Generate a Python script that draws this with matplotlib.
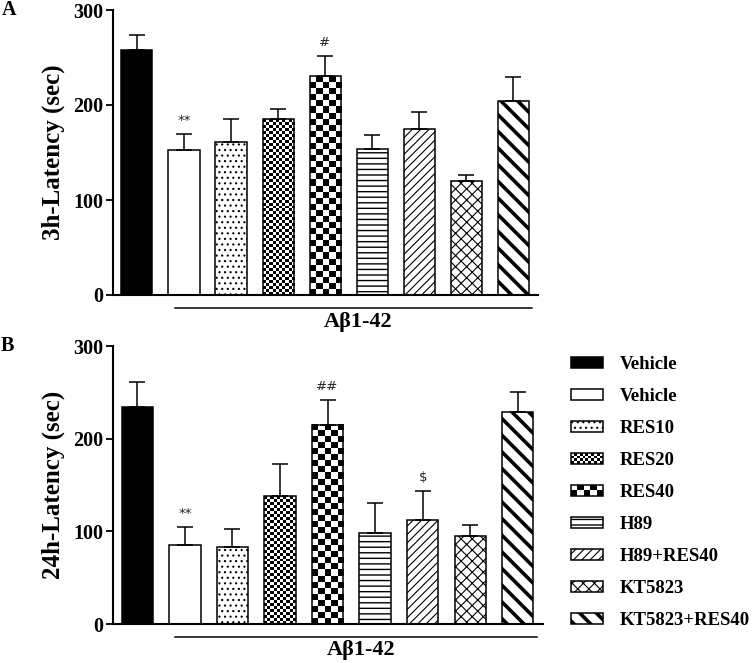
import numpy as np
import matplotlib
matplotlib.use('Agg')
import matplotlib.pyplot as plt
from matplotlib.patches import Rectangle, Patch
from matplotlib.legend_handler import HandlerPatch

# ---------------- data ----------------
groups = ['Vehicle', 'Vehicle', 'RES10', 'RES20', 'RES40', 'H89',
          'H89+RES40', 'KT5823', 'KT5823+RES40']
lat3_mean = [258, 153, 161, 185, 230, 154, 175, 120, 204]
lat3_sem = [16, 17, 24, 11, 22, 14, 18, 6, 25]
lat24_mean = [234, 85, 83, 138, 215, 98, 112, 95, 229]
lat24_sem = [27, 20, 19, 35, 27, 33, 32, 12, 21]
sig3 = ['', '**', '', '', '#', '', '', '', '']
sig24 = ['', '**', '', '', '##', '', '$', '', '']
yticks = [0, 100, 200, 300]
group_label = 'Aβ1-42'
panel_labels = ['A', 'B']
ylabels = ['3h-Latency (sec)', '24h-Latency (sec)']

# ---------------- styles ----------------
plt.rcParams['font.family'] = ['Liberation Serif', 'DejaVu Serif']
styles = [
    dict(face='black'),
    dict(face='white'),
    dict(hatch='...', hlw=0.8),
    dict(checker=3),
    dict(checker=6),
    dict(hatch='---', hlw=1.0),
    dict(hatch='////', hlw=0.8),
    dict(hatch='xxx', hlw=0.8),
    dict(hatch='\\\\', hlw=2.6),
]
EDGE_LW = 1.1

fig = plt.figure(figsize=(7.54, 6.63), dpi=100)
ax_top = fig.add_axes([113 / 754, 1 - 295 / 663, 425 / 754, 285 / 663])
ax_bot = fig.add_axes([113 / 754, 1 - 624 / 663, 430 / 754, 278 / 663])


def set_hlw(artist, lw):
    if hasattr(artist, 'set_hatch_linewidth'):
        artist.set_hatch_linewidth(lw)


def draw_checker(ax, bar, px):
    x0, w, h = bar.get_x(), bar.get_width(), bar.get_height()
    p0 = ax.transData.transform((x0, 0))
    p1 = ax.transData.transform((x0 + w, h))
    nx = max(1, int(round((p1[0] - p0[0]) / px)))
    ny = max(1, int(round((p1[1] - p0[1]) / px)))
    arr = np.add.outer(np.arange(ny), np.arange(nx)) % 2
    ax.imshow(arr, cmap='gray', extent=(x0, x0 + w, 0, h), origin='lower',
              aspect='auto', interpolation='nearest', zorder=1.9,
              clip_path=bar)
    bar.set_facecolor('none')


def draw_panel(ax, means, sems, sig, ylabel, plabel):
    n = len(means)
    x = np.arange(n)
    ax.set_xlim(-0.51, 8.53)
    ax.set_ylim(0, 300)
    bars = ax.bar(x, means, width=0.66, color='white', edgecolor='black',
                  linewidth=EDGE_LW, zorder=2)
    for bar, st in zip(bars, styles):
        if 'face' in st:
            bar.set_facecolor(st['face'])
        if 'hatch' in st:
            plt.rcParams['hatch.linewidth'] = st['hlw']
            bar.set_hatch(st['hatch'])
            set_hlw(bar, st['hlw'])
        if 'checker' in st:
            draw_checker(ax, bar, st['checker'])
    ax.set_xlim(-0.51, 8.53)
    ax.set_ylim(0, 300)
    ax.errorbar(x, means, yerr=[np.zeros(n), sems], fmt='none', ecolor='black',
                elinewidth=1.1, capsize=5.5, capthick=1.1, zorder=3)
    for xi, m, s, t in zip(x, means, sems, sig):
        if t:
            ax.annotate(t, (xi, m + s), xytext=(0, 5), textcoords='offset points',
                        ha='center', va='bottom', fontsize=9.5, color='#222222',
                        family=['DejaVu Sans'])
    for side in ['top', 'right']:
        ax.spines[side].set_visible(False)
    for side in ['left', 'bottom']:
        ax.spines[side].set_linewidth(1.5)
    ax.set_xticks([])
    ax.set_yticks(yticks)
    ax.tick_params(axis='y', length=5, width=1.3, labelsize=14.5, pad=2)
    for lab in ax.get_yticklabels():
        lab.set_fontweight('bold')
    ax.set_ylabel(ylabel, fontsize=18, fontweight='bold', labelpad=6)
    # group line + label
    trans = ax.get_xaxis_transform()
    ax.plot([0.8, 8.4], [-0.046, -0.046], color='black', lw=1.1,
            transform=trans, clip_on=False)
    ax.text(4.7, -0.095, group_label, transform=trans, ha='center', va='center',
            fontsize=16, fontweight='bold')
    ax.text(-0.262, 1.0, plabel, transform=ax.transAxes, ha='left', va='center',
            fontsize=14.5, fontweight='bold')


draw_panel(ax_top, lat3_mean, lat3_sem, sig3, ylabels[0], panel_labels[0])
draw_panel(ax_bot, lat24_mean, lat24_sem, sig24, ylabels[1], panel_labels[1])


# ---------------- legend ----------------
class HatchHandler(HandlerPatch):
    def __init__(self, hlw, **kw):
        super().__init__(**kw)
        self.hlw = hlw

    def create_artists(self, *args, **kwargs):
        arts = super().create_artists(*args, **kwargs)
        for a in arts:
            set_hlw(a, self.hlw)
        return arts


class CheckerHandler(HandlerPatch):
    def __init__(self, sq, **kw):
        super().__init__(**kw)
        self.sq = sq

    def create_artists(self, legend, orig_handle, xdescent, ydescent, width,
                       height, fontsize, trans):
        x0, y0 = -xdescent, -ydescent
        s = self.sq * 72.0 / legend.figure.dpi
        nx = max(1, int(round(width / s)))
        ny = max(1, int(round(height / s)))
        sw, sh = width / nx, height / ny
        arts = [Rectangle((x0, y0), width, height, fc='white', ec='none')]
        for i in range(ny):
            for j in range(nx):
                if (i + j) % 2 == 0:
                    arts.append(Rectangle((x0 + j * sw, y0 + i * sh), sw, sh,
                                          fc='black', ec='none'))
        arts.append(Rectangle((x0, y0), width, height, fc='none', ec='black',
                              lw=EDGE_LW))
        for a in arts:
            a.set_transform(trans)
        return arts


handles = []
handler_map = {}
for lab, st in zip(groups, styles):
    p = Patch(facecolor=st.get('face', 'white'), edgecolor='black',
              hatch=st.get('hatch', None), linewidth=EDGE_LW)
    if 'hatch' in st:
        set_hlw(p, st['hlw'])
        handler_map[p] = HatchHandler(st['hlw'])
    if 'checker' in st:
        handler_map[p] = CheckerHandler(st['checker'])
    handles.append(p)

fig.legend(handles, groups, handler_map=handler_map, loc='upper left',
           bbox_to_anchor=(571 / 754, 1 - 356 / 663), frameon=False,
           borderaxespad=0, borderpad=0, handlelength=1.7, handleheight=0.5,
           handletextpad=0.9, labelspacing=0.8,
           prop=dict(family=['Liberation Serif'], weight='bold', size=13.5))

fig.savefig('out.png', dpi=100)
